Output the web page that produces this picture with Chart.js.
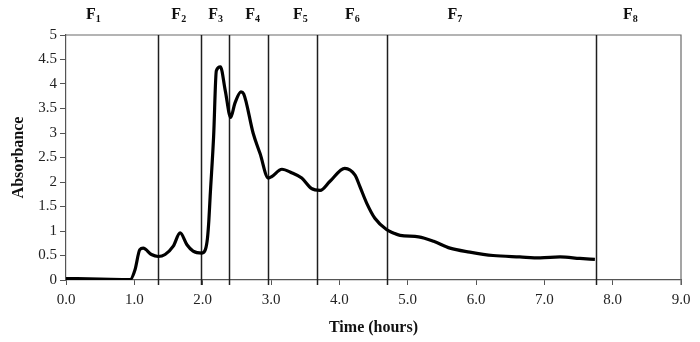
<!DOCTYPE html>
<html>
<head>
<meta charset="utf-8">
<script src="https://cdn.jsdelivr.net/npm/chart.js@4"></script>
<style>
  html, body { margin: 0; padding: 0; background: #fff; }
  #wrap { width: 700px; height: 342px; }
</style>
</head>
<body>
<div id="wrap"><canvas id="c" width="700" height="342"></canvas></div>
<script>
// Elution profile: absorbance against time
const timeHours = [0, 0.5, 0.94, 1.01, 1.08, 1.13, 1.25, 1.35, 1.45, 1.57, 1.67, 1.77, 1.86, 1.99, 2.04, 2.07, 2.09, 2.11, 2.16, 2.20, 2.26, 2.33, 2.41, 2.47, 2.56, 2.60, 2.74, 2.84, 2.96, 3.01, 3.16, 3.30, 3.45, 3.59, 3.72, 3.86, 4.08, 4.23, 4.30, 4.40, 4.52, 4.69, 4.79, 4.89, 5.16, 5.38, 5.62, 5.91, 6.25, 6.64, 6.94, 7.23, 7.52, 7.74];
const absorbance = [0.03, 0.02, 0.01, 0.21, 0.62, 0.65, 0.52, 0.48, 0.52, 0.69, 0.96, 0.72, 0.59, 0.55, 0.62, 0.85, 1.20, 1.72, 2.92, 4.27, 4.35, 3.87, 3.32, 3.60, 3.84, 3.80, 2.99, 2.58, 2.08, 2.11, 2.26, 2.19, 2.08, 1.87, 1.83, 2.01, 2.28, 2.14, 1.91, 1.57, 1.26, 1.03, 0.96, 0.91, 0.88, 0.79, 0.65, 0.57, 0.50, 0.47, 0.45, 0.47, 0.44, 0.42];

// Fraction cut points (hours) and fraction labels
const fractionCuts = [1.35, 1.98, 2.39, 2.96, 3.67, 4.70, 7.76];
const fractionNumbers = [1, 2, 3, 4, 5, 6, 7, 8];
const fractionLabelTimes = [0.40, 1.65, 2.19, 2.73, 3.43, 4.19, 5.69, 8.26];

const xTicks = [0, 1, 2, 3, 4, 5, 6, 7, 8, 9];

const serif = '"Liberation Serif", "Times New Roman", serif';

const fractionPlugin = {
  id: 'fractions',
  beforeDatasetsDraw(chart) {
    const { ctx, chartArea: a, scales: { x } } = chart;
    ctx.save();
    // frame on top and right
    ctx.strokeStyle = '#6a6a6a';
    ctx.lineWidth = 1.2;
    ctx.beginPath();
    ctx.moveTo(a.left, a.top);
    ctx.lineTo(a.right, a.top);
    ctx.lineTo(a.right, a.bottom + 5);
    ctx.stroke();
    // fraction cut lines
    ctx.strokeStyle = '#1e1e1e';
    ctx.lineWidth = 1.5;
    fractionCuts.forEach(t => {
      const px = Math.round(x.getPixelForValue(t)) + 0.5;
      ctx.beginPath();
      ctx.moveTo(px, a.top);
      ctx.lineTo(px, a.bottom + 5);
      ctx.stroke();
    });
    ctx.restore();
  },
  afterDraw(chart) {
    const { ctx, scales: { x } } = chart;
    ctx.save();
    ctx.fillStyle = '#111';
    ctx.textBaseline = 'alphabetic';
    fractionLabelTimes.forEach((t, i) => {
      const cx = x.getPixelForValue(t);
      const main = 'F';
      const sub = String(fractionNumbers[i]);
      ctx.font = 'bold 16px ' + serif;
      const wMain = ctx.measureText(main).width;
      ctx.font = 'bold 10px ' + serif;
      const wSub = ctx.measureText(sub).width;
      const left = cx - (wMain + wSub) / 2;
      ctx.font = 'bold 16px ' + serif;
      ctx.fillText(main, left, 19);
      ctx.font = 'bold 10px ' + serif;
      ctx.fillText(sub, left + wMain, 22);
    });
    ctx.restore();
  }
};

new Chart(document.getElementById('c'), {
  type: 'line',
  data: {
    datasets: [{
      data: timeHours.map((t, i) => ({ x: t, y: absorbance[i] })),
      borderColor: '#000',
      borderWidth: 3.2,
      pointRadius: 0,
      fill: false,
      cubicInterpolationMode: 'monotone'
    }]
  },
  options: {
    responsive: false,
    animation: false,
    devicePixelRatio: 1,
    layout: { padding: { top: 35, right: 19, left: 0, bottom: 0 } },
    plugins: { legend: { display: false }, tooltip: { enabled: false } },
    scales: {
      x: {
        type: 'linear',
        min: 0, max: 9,
        afterBuildTicks(scale) { scale.ticks = xTicks.map(v => ({ value: v })); },
        afterFit(scale) { scale.height = 62; },
        grid: { drawOnChartArea: false, drawTicks: true, tickLength: 5, color: '#555', lineWidth: 1 },
        border: { display: true, color: '#555', width: 1.2 },
        ticks: {
          color: '#222',
          font: { family: serif, size: 15 },
          padding: 6,
          maxRotation: 0,
          callback: v => Number(v).toFixed(1)
        },
        title: {
          display: true,
          text: 'Time (hours)',
          color: '#111',
          font: { family: serif, size: 16, weight: 'bold' },
          padding: { top: 2, bottom: 5 }
        }
      },
      y: {
        min: 0, max: 5,
        afterFit(scale) { scale.width = 66; },
        grid: { drawOnChartArea: false, drawTicks: true, tickLength: 6, color: '#555', lineWidth: 1 },
        border: { display: true, color: '#555', width: 1.2 },
        ticks: {
          stepSize: 0.5,
          color: '#222',
          font: { family: serif, size: 15 },
          padding: 3,
          callback: v => String(Math.round(v * 10) / 10)
        },
        title: {
          display: true,
          text: 'Absorbance',
          color: '#111',
          font: { family: serif, size: 16, weight: 'bold' },
          padding: { top: 9, bottom: 0 }
        }
      }
    }
  },
  plugins: [fractionPlugin]
});
</script>
</body>
</html>
